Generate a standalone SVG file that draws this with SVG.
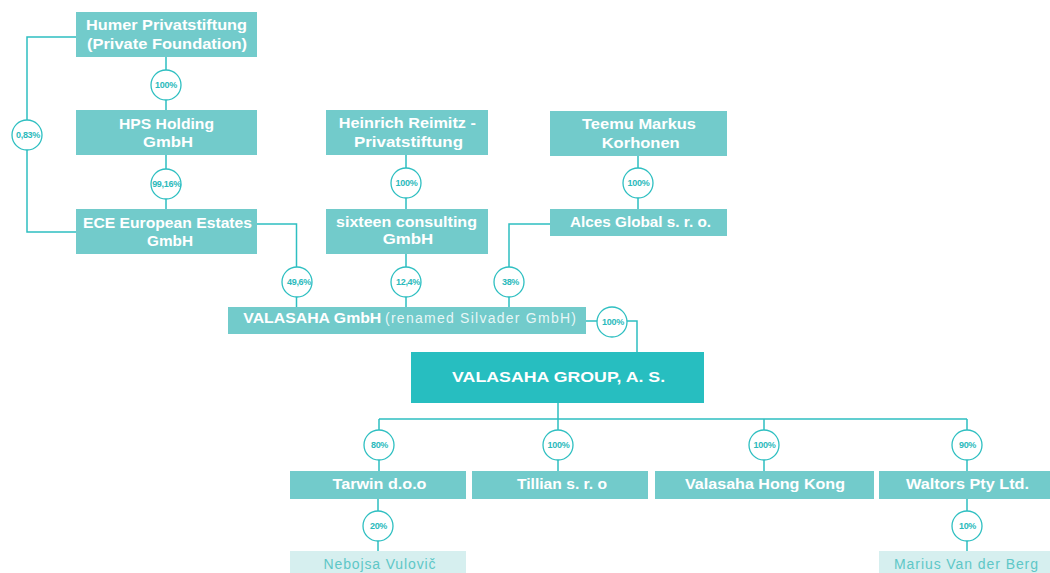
<svg xmlns="http://www.w3.org/2000/svg" width="1050" height="573" viewBox="0 0 1050 573">
<style>
.box{fill:#72CBCB}
.main{fill:#27BEC0}
.light{fill:#D6EFEF}
.conn{stroke:#2EBFC1;stroke-width:1.5;fill:none}
.pc circle{fill:#fff;stroke:#2EBFC1;stroke-width:1.3}
.pc text{font-family:"Liberation Sans",Arial,sans-serif;font-weight:bold;font-size:9px;fill:#2BBABC;text-anchor:middle;letter-spacing:-0.3px}
.t{font-family:"Liberation Sans",Arial,sans-serif;font-weight:bold;font-size:15px;fill:#fff;text-anchor:middle}
.tl{font-family:"Liberation Sans",Arial,sans-serif;font-size:14px;fill:#fff;fill-opacity:0.85}
.tn{font-family:"Liberation Sans",Arial,sans-serif;font-size:14px;fill:#5EC7C7;text-anchor:middle}
</style>
<rect width="1050" height="573" fill="#fff"/>
<g id="connectors">
<path class="conn" d="M166,57V110M166,155V209M76,37H27V232H76M257,224H296.5V307M406,155V209M406,254V307M638,156V209M550,224H509V307M586,321H637V352M558,403V419M379,419H967M379,419V471M558,419V471M764,419V471M967,419V471M378,499V551M967,499V551"/>
<g class="pc">
<circle cx="166" cy="85" r="15"/><text x="166" y="88.2">100%</text>
<circle cx="166" cy="184" r="15"/><text x="166.5" y="187.2">99,16%</text>
<circle cx="27" cy="135" r="15"/><text x="28" y="138.2">0,83%</text>
<circle cx="297" cy="282" r="15"/><text x="299" y="285.2">49,6%</text>
<circle cx="406" cy="183" r="15"/><text x="406.5" y="186.2">100%</text>
<circle cx="406" cy="282" r="15"/><text x="408" y="285.2">12,4%</text>
<circle cx="638" cy="183" r="15"/><text x="638.5" y="186.2">100%</text>
<circle cx="509" cy="282" r="15"/><text x="510.5" y="285.2">38%</text>
<circle cx="612" cy="322" r="15"/><text x="613" y="325.2">100%</text>
<circle cx="379" cy="445" r="15"/><text x="379.5" y="448.2">80%</text>
<circle cx="558" cy="445" r="15"/><text x="558.5" y="448.2">100%</text>
<circle cx="764" cy="445" r="15"/><text x="764.5" y="448.2">100%</text>
<circle cx="967" cy="445" r="15"/><text x="967.5" y="448.2">90%</text>
<circle cx="378" cy="526" r="15"/><text x="378.5" y="529.2">20%</text>
<circle cx="967" cy="526" r="15"/><text x="967.5" y="529.2">10%</text>
</g>
</g>
<g id="humer"><rect class="box" x="76" y="12" width="181" height="45"/>
<text class="t" x="166.5" y="30" textLength="161" lengthAdjust="spacingAndGlyphs">Humer Privatstiftung</text>
<text class="t" x="167" y="48.5" textLength="160" lengthAdjust="spacingAndGlyphs">(Private Foundation)</text></g>
<g id="hps"><rect class="box" x="76" y="110" width="181" height="45"/>
<text class="t" x="166.5" y="128.5" textLength="95" lengthAdjust="spacingAndGlyphs">HPS Holding</text>
<text class="t" x="168" y="146.5" textLength="50" lengthAdjust="spacingAndGlyphs">GmbH</text></g>
<g id="ece"><rect class="box" x="76" y="209" width="181" height="45"/>
<text class="t" x="167.5" y="227.5" textLength="169" lengthAdjust="spacingAndGlyphs">ECE European Estates</text>
<text class="t" x="170" y="246" textLength="46" lengthAdjust="spacingAndGlyphs">GmbH</text></g>
<g id="heinrich"><rect class="box" x="326" y="110" width="162" height="45"/>
<text class="t" x="407.3" y="128.3" textLength="137" lengthAdjust="spacingAndGlyphs">Heinrich Reimitz -</text>
<text class="t" x="408.5" y="146.7" textLength="109" lengthAdjust="spacingAndGlyphs">Privatstiftung</text></g>
<g id="sixteen"><rect class="box" x="326" y="209" width="162" height="45"/>
<text class="t" x="406.5" y="226.7" textLength="141" lengthAdjust="spacingAndGlyphs">sixteen consulting</text>
<text class="t" x="408" y="244.3" textLength="50.6" lengthAdjust="spacingAndGlyphs">GmbH</text></g>
<g id="teemu"><rect class="box" x="550" y="111" width="177" height="45"/>
<text class="t" x="639" y="129" textLength="114" lengthAdjust="spacingAndGlyphs">Teemu Markus</text>
<text class="t" x="640.7" y="147.5" textLength="78" lengthAdjust="spacingAndGlyphs">Korhonen</text></g>
<g id="alces"><rect class="box" x="550" y="209" width="177" height="27"/>
<text class="t" x="640.5" y="226.7" textLength="141" lengthAdjust="spacingAndGlyphs">Alces Global s. r. o.</text></g>
<g id="valasaha-gmbh"><rect class="box" x="228" y="307" width="358" height="27"/>
<text class="t" x="243.3" y="323.3" style="text-anchor:start" textLength="138" lengthAdjust="spacingAndGlyphs">VALASAHA GmbH</text>
<text class="tl" x="385" y="323.3" textLength="191" lengthAdjust="spacing">(renamed Silvader GmbH)</text></g>
<g id="valasaha-group"><rect class="main" x="411" y="352" width="293" height="51"/>
<text class="t" x="558.6" y="382.3" style="font-size:15.5px" textLength="213" lengthAdjust="spacingAndGlyphs">VALASAHA  GROUP,  A.  S.</text></g>
<g id="tarwin"><rect class="box" x="290" y="471" width="176" height="28"/>
<text class="t" x="379.5" y="489" textLength="94" lengthAdjust="spacingAndGlyphs">Tarwin d.o.o</text></g>
<g id="tillian"><rect class="box" x="472" y="471" width="176" height="28"/>
<text class="t" x="562" y="489" textLength="90" lengthAdjust="spacingAndGlyphs">Tillian s. r. o</text></g>
<g id="valasaha-hk"><rect class="box" x="655" y="471" width="219" height="28"/>
<text class="t" x="765" y="489" textLength="160" lengthAdjust="spacingAndGlyphs">Valasaha Hong Kong</text></g>
<g id="waltors"><rect class="box" x="879" y="471" width="171" height="28"/>
<text class="t" x="967.5" y="489" textLength="123" lengthAdjust="spacingAndGlyphs">Waltors Pty Ltd.</text></g>
<g id="nebojsa"><rect class="light" x="290" y="551" width="176" height="22"/>
<text class="tn" x="379.5" y="568.7" textLength="112" lengthAdjust="spacing">Nebojsa Vulovič</text></g>
<g id="marius"><rect class="light" x="879" y="551" width="171" height="22"/>
<text class="tn" x="966" y="568.7" textLength="144" lengthAdjust="spacing">Marius Van der Berg</text></g>
</svg>
